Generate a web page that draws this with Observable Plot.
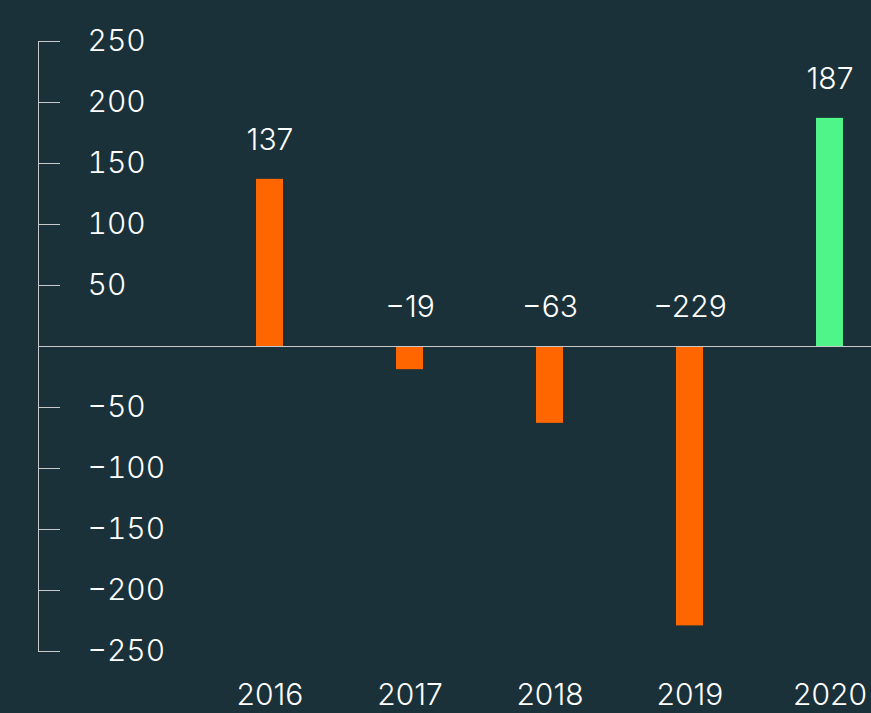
<!DOCTYPE html>
<html><head><meta charset="utf-8">
<script src="https://cdn.jsdelivr.net/npm/d3@7"></script>
<script src="https://cdn.jsdelivr.net/npm/@observablehq/plot@0.6"></script>
<style>html,body{margin:0;padding:0;background:#1a3139;overflow:hidden;}</style>
</head><body><div id="chart"></div>
<script>
const years = ["2016","2017","2018","2019","2020"];
const values = [137, -19, -63, -229, 187];
const barColors = ["#ff6600","#ff6600","#ff6600","#ff6600","#50f58a"];
const yTicks = [250,200,150,100,50,-50,-100,-150,-200,-250];
const data = years.map((y,i)=>({year:y, value:values[i], color:barColors[i]}));
const plot = Plot.plot({
  width: 871, height: 713,
  marginLeft: 38, marginRight: 0, marginTop: 41, marginBottom: 62,
  style: {background:"#1a3139", color:"#fff", fontFamily:"Inter, Lato, sans-serif", fontSize:"30px", fontWeight:300, overflow:"visible"},
  x: {domain: years, range:[199, 899], paddingInner:0.81, paddingOuter:0.405, align:0.5},
  y: {domain:[-250, 250]},
  color: {type:"identity"},
  marks: [
    Plot.frame({anchor:"left", stroke:"#c9c9c9", strokeOpacity:1}),
    Plot.ruleY(yTicks, {y: d=>d, stroke:"#c9c9c9", insetRight: 871-38-22}),
    Plot.axisY(yTicks, {anchor:"left", tickSize:0, tickPadding:-49, textAnchor:"start", fill:"#fff", fontSize:30, label:null}),
    Plot.barY(data, {x:"year", y:"value", fill:"color"}),
    Plot.ruleY([0], {stroke:"#c9c9c9"}),
    Plot.text(data, {x:"year", y: d=>Math.max(d.value,0), text: d=>String(d.value).replace("-","\u2212"), dy:-39, fill:"#fff", fontSize:30}),
    Plot.axisX({anchor:"bottom", tickSize:0, tickPadding:32, fill:"#fff", fontSize:30, label:null})
  ]
});
document.getElementById("chart").appendChild(plot);
</script>
</body></html>
